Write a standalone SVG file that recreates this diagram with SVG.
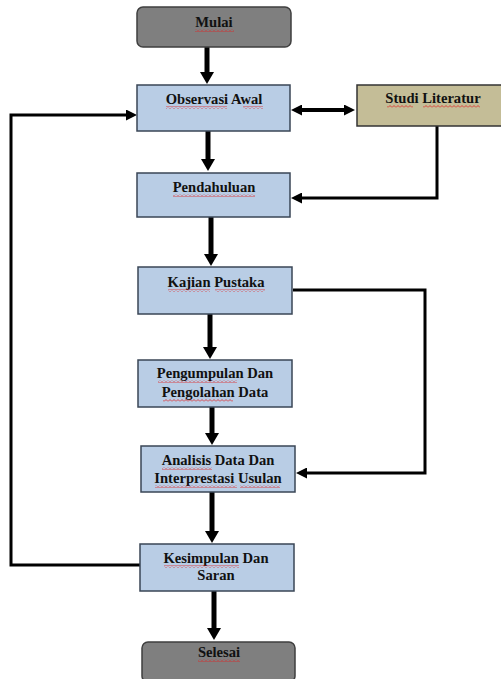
<svg xmlns="http://www.w3.org/2000/svg" width="501" height="679" viewBox="0 0 501 679">
<style>
.gray{fill:#7f7f7f;stroke:#3f3f3f;stroke-width:1.5}
.blue{fill:#b9cde5;stroke:#3a4656;stroke-width:1.5}
.tan{fill:#c4bd97;stroke:#333;stroke-width:1.5}
text{font-family:"Liberation Serif","Times New Roman",serif;font-weight:bold;font-size:14.6px;fill:#111;text-anchor:middle}
.thick{fill:none;stroke:#000;stroke-width:5}
.thin{fill:none;stroke:#000;stroke-width:3}
.sq{fill:url(#sq)}
</style>
<defs>
<marker id="ah" viewBox="0 0 12 14" refX="0" refY="7" markerWidth="12" markerHeight="14" markerUnits="userSpaceOnUse" orient="auto"><path d="M0,0 L12,7 L0,14 z" fill="#000"/></marker>
<marker id="at" viewBox="0 0 11 11" refX="0" refY="5.5" markerWidth="11" markerHeight="11" markerUnits="userSpaceOnUse" orient="auto-start-reverse"><path d="M0,0 L11,5.5 L0,11 z" fill="#000"/></marker>
<pattern id="sq" width="4" height="3" patternUnits="userSpaceOnUse"><path d="M0,2.5 L2,0.5 L4,2.5" fill="none" stroke="#e02020" stroke-width="0.8"/></pattern>
</defs>
<g id="connectors">
<path class="thick" d="M207,47 V72" marker-end="url(#ah)"/>
<path class="thick" d="M208,131 V159" marker-end="url(#ah)"/>
<path class="thick" d="M211,217 V254" marker-end="url(#ah)"/>
<path class="thick" d="M210,314 V347" marker-end="url(#ah)"/>
<path class="thick" d="M212,407 V433" marker-end="url(#ah)"/>
<path class="thick" d="M212,492 V531" marker-end="url(#ah)"/>
<path class="thick" d="M214,591 V628" marker-end="url(#ah)"/>
<path class="thin" style="stroke-width:4" d="M302,110 H344" marker-start="url(#at)" marker-end="url(#at)"/>
<path class="thin" d="M437,126 V198 H302" marker-end="url(#at)"/>
<path class="thin" d="M293,290 H425 V473 H307" marker-end="url(#at)"/>
<path class="thin" d="M140,565 H11 V115 H126" marker-end="url(#at)"/>
</g>
<g id="mulai"><rect class="gray" x="137" y="7" width="154" height="40" rx="6"/><text x="214" y="27">Mulai</text><rect class="sq" x="195" y="29" width="39" height="3"/></g>
<g id="observasi"><rect class="blue" x="137" y="85" width="153" height="46"/><text x="214" y="104">Observasi Awal</text><rect class="sq" x="166" y="106" width="61" height="3"/><rect class="sq" x="243" y="106" width="20" height="3"/></g>
<g id="studi"><rect class="tan" x="357" y="85" width="146" height="41"/><text x="433" y="103">Studi Literatur</text><rect class="sq" x="387" y="105" width="26" height="3"/><rect class="sq" x="423" y="105" width="57" height="3"/></g>
<g id="pendahuluan"><rect class="blue" x="137" y="173" width="153" height="44"/><text x="214" y="192">Pendahuluan</text><rect class="sq" x="173" y="194" width="82" height="3"/></g>
<g id="kajian"><rect class="blue" x="138" y="267" width="154" height="47"/><text x="216" y="287">Kajian Pustaka</text><rect class="sq" x="168" y="289" width="42" height="3"/><rect class="sq" x="215" y="289" width="50" height="3"/></g>
<g id="pengumpulan"><rect class="blue" x="138" y="360" width="154" height="47"/><text x="215" y="378">Pengumpulan Dan</text><text x="215" y="397">Pengolahan Data</text><rect class="sq" x="158" y="380" width="79" height="3"/><rect class="sq" x="163" y="399" width="70" height="3"/></g>
<g id="analisis"><rect class="blue" x="141" y="446" width="154" height="46"/><text x="218" y="465">Analisis Data Dan</text><text x="218" y="483">Interprestasi Usulan</text><rect class="sq" x="162" y="467" width="50" height="3"/><rect class="sq" x="155" y="485" width="82" height="3"/><rect class="sq" x="240" y="485" width="40" height="3"/></g>
<g id="kesimpulan"><rect class="blue" x="140" y="544" width="154" height="47"/><text x="216" y="563">Kesimpulan Dan</text><text x="216" y="580">Saran</text><rect class="sq" x="164" y="565" width="75" height="3"/></g>
<g id="selesai"><rect class="gray" x="142" y="642" width="153" height="40" rx="6"/><text x="219" y="657">Selesai</text><rect class="sq" x="198" y="659" width="42" height="3"/></g>
</svg>
